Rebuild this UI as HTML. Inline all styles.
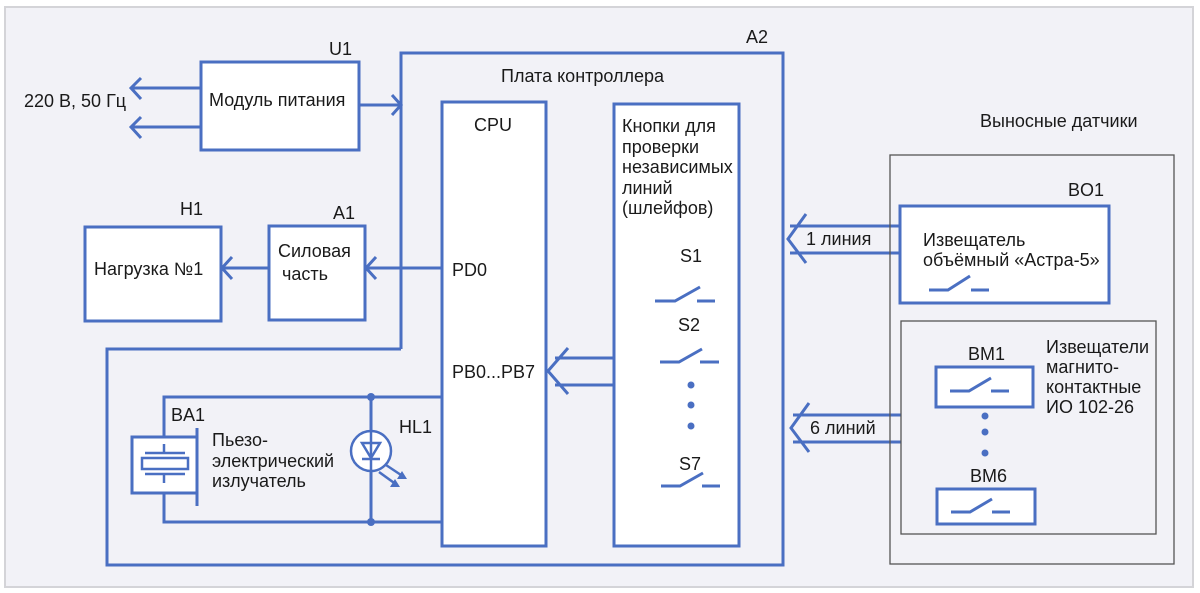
<!DOCTYPE html>
<html><head><meta charset="utf-8"><style>
html,body{margin:0;padding:0;background:#fff;}
svg{display:block;}
text{font-family:"Liberation Sans",sans-serif;font-size:18px;fill:#1a1a1a;}
</style></head><body>
<svg width="1200" height="593" viewBox="0 0 1200 593" xmlns="http://www.w3.org/2000/svg">
<rect x="5" y="7" width="1188" height="580" fill="#f2f2f7" stroke="#d4d4d8" stroke-width="2"/>
<g fill="none" stroke="#4a6fc2" stroke-width="3" stroke-linejoin="miter">
<rect x="201" y="62" width="158" height="88" fill="#fff"/>
<line x1="201" y1="88" x2="131" y2="88"/><polyline points="141,78 131,88 141,99"/>
<line x1="201" y1="127" x2="131" y2="127"/><polyline points="141,117 131,127 141,138"/>
<line x1="359" y1="105" x2="400" y2="105"/><polyline points="392,95 401,105 392,115"/>
<polyline points="401,349 401,53 783,53 783,565 107,565 107,349 401,349"/>
<rect x="442" y="102" width="104" height="444" fill="#fff"/>
<rect x="614" y="104" width="125" height="442" fill="#fff"/>
<rect x="85" y="227" width="136" height="94" fill="#fff"/>
<rect x="269" y="226" width="96" height="94" fill="#fff"/>
<line x1="442" y1="268" x2="366" y2="268"/><polyline points="376,257 366,268 376,279"/>
<line x1="269" y1="268" x2="222" y2="268"/><polyline points="232,257 222,268 232,279"/>
<line x1="614" y1="358" x2="555" y2="358"/><line x1="614" y1="385" x2="555" y2="385"/>
<polyline points="568,348 548,371 568,394"/>
<polyline points="655,301 675,301 700,287"/><line x1="697" y1="301" x2="715" y2="301"/>
<polyline points="660,362 679,362 702,349"/><line x1="700" y1="362" x2="719" y2="362"/>
<polyline points="661,486 680,486 703,473"/><line x1="702" y1="486" x2="720" y2="486"/>
<line x1="900" y1="226" x2="790" y2="226"/><line x1="900" y1="253" x2="790" y2="253"/>
<polyline points="806,214 788,239 806,263"/>
<line x1="901" y1="415" x2="793" y2="415"/><line x1="901" y1="442" x2="793" y2="442"/>
<polyline points="809,403 791,428 809,452"/>
<rect x="900" y="206" width="209" height="97" fill="#fff"/>
<polyline points="929,290 948,290 970,276"/><line x1="971" y1="290" x2="989" y2="290"/>
<rect x="936" y="367" width="97" height="40" fill="#fff"/>
<polyline points="950,391 969,391 991,378"/><line x1="991" y1="391" x2="1009" y2="391"/>
<rect x="937" y="489" width="98" height="35" fill="#fff"/>
<polyline points="951,512 970,512 992,499"/><line x1="992" y1="512" x2="1010" y2="512"/>
<polyline points="441,397 164,397 164,437"/>
<polyline points="441,522 164,522 164,493"/>
<line x1="371" y1="397" x2="371" y2="522"/>
<rect x="132" y="437" width="65" height="56" fill="#fff"/>
<line x1="197" y1="428" x2="197" y2="506"/>
<line x1="145" y1="453" x2="185" y2="453" stroke-width="2.5"/>
<rect x="142" y="458" width="46" height="11" stroke-width="2.5"/>
<line x1="145" y1="474" x2="185" y2="474" stroke-width="2.5"/>
<line x1="164" y1="444" x2="164" y2="453" stroke-width="2.5"/>
<line x1="164" y1="474" x2="164" y2="483" stroke-width="2.5"/>
<circle cx="371" cy="451" r="20" fill="#fff" stroke-width="2.5"/>
<line x1="371" y1="431" x2="371" y2="471" stroke-width="2.5"/>
<polygon points="362,443 380,443 371,458" stroke-width="2.5"/>
<line x1="362" y1="459" x2="380" y2="459" stroke-width="2.5"/>
<line x1="386" y1="465" x2="404" y2="477" stroke-width="2.5"/>
<line x1="379" y1="472" x2="397" y2="485" stroke-width="2.5"/>
</g>
<g fill="#4a6fc2">
<polygon points="407,479 397,479 402,471"/>
<polygon points="400,487 390,487 395,479"/>
<circle cx="371" cy="397" r="4"/><circle cx="371" cy="522" r="4"/>
<circle cx="691" cy="385" r="3.5"/><circle cx="691" cy="405" r="3.5"/><circle cx="691" cy="426" r="3.5"/>
<circle cx="985" cy="416" r="3.5"/><circle cx="985" cy="432" r="3.5"/><circle cx="985" cy="453" r="3.5"/>
</g>
<g fill="none" stroke="#555" stroke-width="1.3">
<rect x="890" y="155" width="284" height="409"/>
<rect x="901" y="321" width="255" height="213"/>
</g>
<text x="24" y="107">220 В, 50 Гц</text>
<text x="329" y="55">U1</text>
<text x="209" y="106">Модуль питания</text>
<text x="746" y="43">A2</text>
<text x="501" y="82">Плата контроллера</text>
<text x="474" y="131">CPU</text>
<g style="font-size:17.5px">
<text x="622" y="132">Кнопки для</text>
<text x="622" y="153">проверки</text>
<text x="622" y="173">независимых</text>
<text x="622" y="194">линий</text>
<text x="622" y="214">(шлейфов)</text>
</g>
<text x="680" y="262">S1</text>
<text x="678" y="331">S2</text>
<text x="679" y="470">S7</text>
<text x="180" y="215">H1</text>
<text x="333" y="219">A1</text>
<text x="94" y="275">Нагрузка №1</text>
<text x="278" y="257">Силовая</text>
<text x="282" y="280">часть</text>
<text x="452" y="276">PD0</text>
<text x="452" y="378">PB0...PB7</text>
<text x="171" y="421">BA1</text>
<text x="212" y="446">Пьезо-</text>
<text x="212" y="467">электрический</text>
<text x="212" y="487">излучатель</text>
<text x="399" y="433">HL1</text>
<text x="980" y="127">Выносные датчики</text>
<text x="1068" y="196">BO1</text>
<g style="font-size:16.5px">
<text x="923" y="246">Извещатель</text>
<text x="923" y="266">объёмный «Астра-5»</text>
</g>
<text x="806" y="245">1 линия</text>
<text x="810" y="434">6 линий</text>
<text x="968" y="360">BM1</text>
<text x="970" y="482">BM6</text>
<text x="1046" y="353">Извещатели</text>
<text x="1046" y="373">магнито-</text>
<text x="1046" y="393">контактные</text>
<text x="1046" y="413">ИО 102-26</text>
</svg>
</body></html>
